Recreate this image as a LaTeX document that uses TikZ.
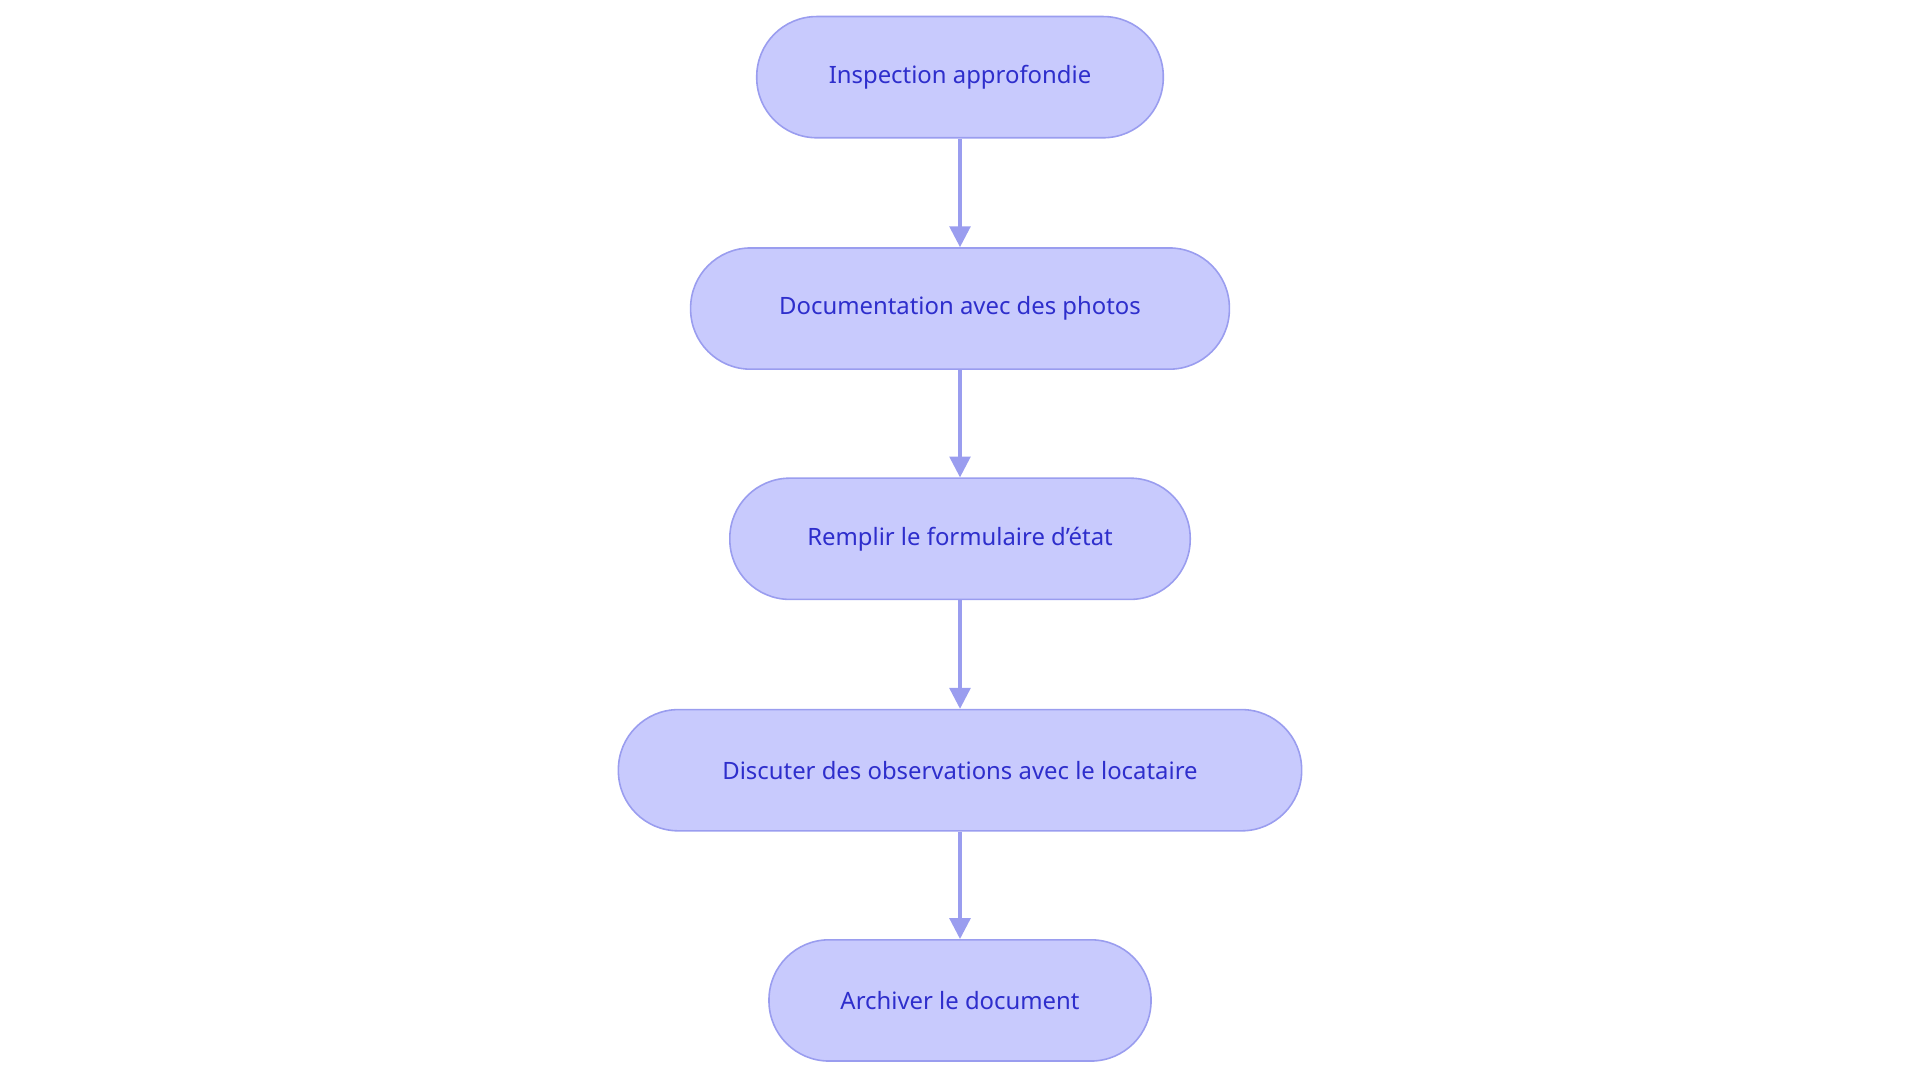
\documentclass[tikz,border=0pt]{standalone}
\usepackage{fontspec}
\setmainfont{Noto Sans}
\usetikzlibrary{arrows.meta}
\definecolor{nfill}{HTML}{C8CAFD}
\definecolor{nline}{HTML}{9A9DEF}
\definecolor{ntext}{HTML}{2E2ECC}
\begin{document}
\begin{tikzpicture}[x=1pt,y=-1pt,
  box/.style={draw=nline,line width=1.3pt,fill=nfill,rounded corners=49pt,minimum height=99pt,inner sep=0pt,text=ntext,font=\fontsize{19.5}{22}\selectfont},
  arr/.style={draw=nline,line width=2.6pt,-{Triangle[length=17pt,width=17pt]}}]
\useasboundingbox (0,0) rectangle (1568,884.5);
\node[box,minimum width=332pt] (a) at (784,63) {Inspection approfondie};
\node[box,minimum width=440pt] (b) at (784,252) {Documentation avec des photos};
\node[box,minimum width=376pt] (c) at (784,440) {Remplir le formulaire d'état};
\node[box,minimum width=558pt] (d) at (784,629) {Discuter des observations avec le locataire};
\node[box,minimum width=312pt] (e) at (784,817) {Archiver le document};
\draw[arr] (a) -- (b);
\draw[arr] (b) -- (c);
\draw[arr] (c) -- (d);
\draw[arr] (d) -- (e);
\end{tikzpicture}
\end{document}
